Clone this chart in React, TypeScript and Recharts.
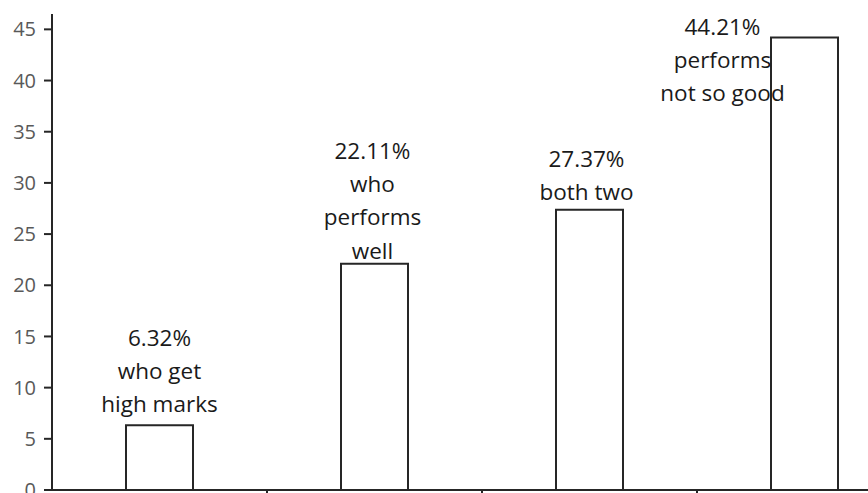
import React from 'react';
import { BarChart, Bar, XAxis, YAxis, LabelList } from 'recharts';

// groups of students and the share of each (percent)
const categories = ['who get high marks', 'who performs well', 'both two', 'performs not so good'];
const shares = [6.32, 22.11, 27.37, 44.21];
// how the caption under each percentage is broken into lines
const captionLines = [['who get', 'high marks'], ['who', 'performs', 'well'], ['both two'], ['performs', 'not so good']];
const yTicks = [0, 5, 10, 15, 20, 25, 30, 35, 40, 45];

const data = categories.map((name, i) => ({ name, value: shares[i] }));

// baseline of the last caption line, relative to the bar top centre (text boxes were placed by hand)
const labelNudge = [
  { dx: 0, dy: -13 },
  { dx: -2, dy: -5 },
  { dx: -3, dy: -10 },
  { dx: -82, dy: 64 },
];

const LINE_GAP = 33.3;
const CAT_WIDTH = 215;
const FONT = "'Open Sans', sans-serif";

const BarCaption = (props: any) => {
  const { x, y, width, index } = props;
  const lines = [`${shares[index]}%`, ...captionLines[index]];
  const cx = x + width / 2 + labelNudge[index].dx;
  const lastY = y + labelNudge[index].dy;
  return (
    <g>
      {lines.map((t, i) => (
        <text
          key={i}
          x={cx}
          y={lastY - (lines.length - 1 - i) * LINE_GAP}
          textAnchor="middle"
          fontFamily={FONT}
          fontSize={22.5}
          fill="#1a1a1a"
        >
          {t}
        </text>
      ))}
    </g>
  );
};

// category ticks sit on the boundaries between groups, not under the bars
const BoundaryTick = (props: any) => {
  const { x, y, index } = props;
  if (index === 0) return null;
  const bx = x - CAT_WIDTH / 2;
  return <line x1={bx} y1={y - 8} x2={bx} y2={y} stroke="#262626" strokeWidth={2} />;
};

const App: React.FC = () => {
  return (
    <div style={{ position: 'absolute', left: 0, top: 0, width: 868, height: 493, overflow: 'hidden', background: '#fff' }}>
      <BarChart width={912} height={510} data={data} margin={{ top: 14, right: 0, left: 0, bottom: 0 }}>
        <XAxis
          dataKey="name"
          height={20}
          axisLine={{ stroke: '#262626', strokeWidth: 2 }}
          tickLine={false}
          tick={<BoundaryTick />}
          interval={0}
        />
        <YAxis
          width={52}
          domain={[0, 46.5]}
          ticks={yTicks}
          allowDataOverflow
          axisLine={{ stroke: '#262626', strokeWidth: 2 }}
          tickLine={{ stroke: '#262626', strokeWidth: 2 }}
          tickSize={8}
          tickMargin={8}
          tick={{ fill: '#595959', fontSize: 20, fontFamily: FONT }}
        />
        <Bar dataKey="value" barSize={67} fill="#fff" stroke="#262626" strokeWidth={2} isAnimationActive={false}>
          <LabelList dataKey="value" content={<BarCaption />} />
        </Bar>
      </BarChart>
    </div>
  );
};

export default App;
